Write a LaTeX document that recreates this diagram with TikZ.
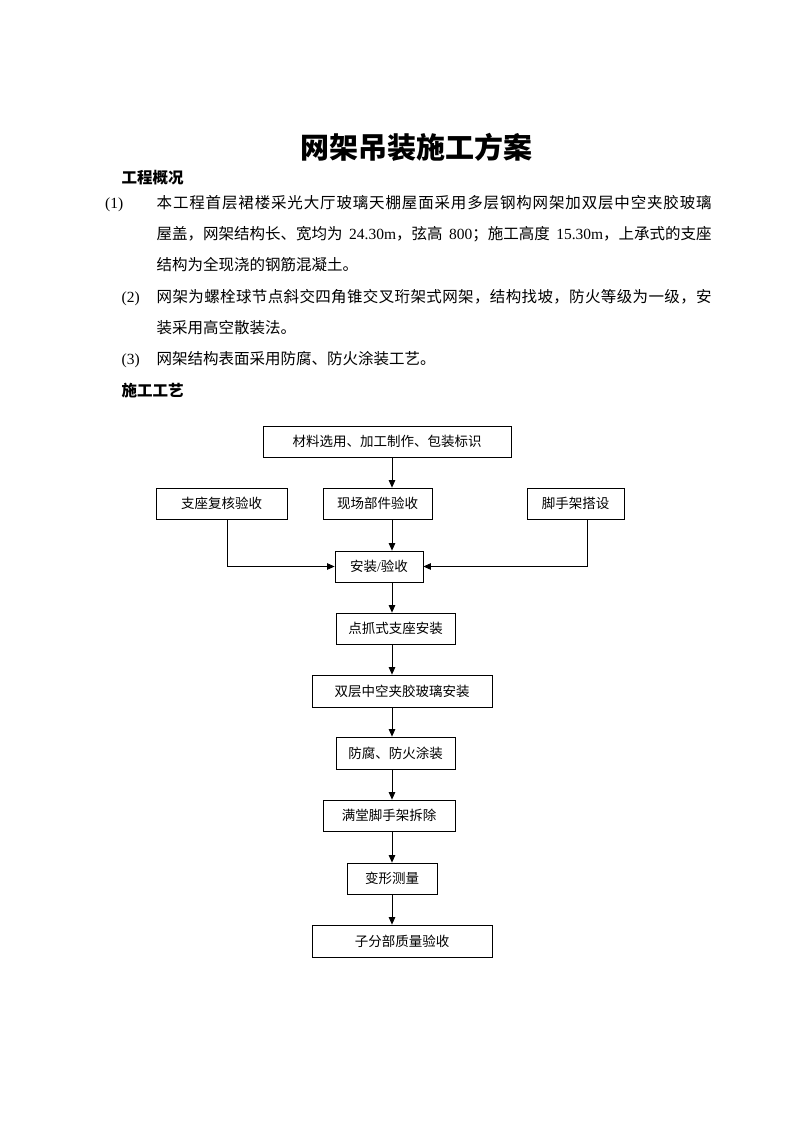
\documentclass[tikz,border=0pt]{standalone}
\usepackage{fontspec}
\setmainfont{Noto Sans CJK SC}
\newfontfamily\latf{Liberation Serif}
\usetikzlibrary{arrows.meta}
\newcommand{\lt}[1]{{\latf #1}}
\def\spreadtxt#1#2\relax{#1\spreadrest#2\relax}
\def\spreadrest#1{\ifx\relax#1\else\hfil#1\expandafter\spreadrest\fi}
\begin{document}
\begin{tikzpicture}[x=1pt,y=-1pt,
  fbox/.style={draw,line width=0.8pt,inner sep=0pt,font=\fontsize{13.5}{16}\selectfont},
  arr/.style={line width=0.8pt,-{Triangle[length=7.5pt,width=6.5pt]}},
  body/.style={anchor=west,inner sep=0pt,font=\fontsize{15.5}{18}\selectfont},
  num/.style={anchor=base west,inner sep=0pt,font=\fontsize{15.5}{18}\selectfont\latf},
  head/.style={anchor=west,inner sep=0pt,font=\fontsize{15.5}{18}\selectfont\bfseries}]
\useasboundingbox[fill=white] (0,0) rectangle (793,1122);
\coordinate (c105) at (105,0);
\coordinate (c121) at (121.5,0);
% title and text
\node[inner sep=0pt,font=\fontsize{29}{34}\selectfont\bfseries] (title) at (416.5,147) {网架吊装施工方案};
\node[head] (h1) at (121.5,177.5) {工程概况};
\node[body] (l1) at (156.5,203) {\makebox[555pt][s]{\spreadtxt 本工程首层裙楼采光大厅玻璃天棚屋面采用多层钢构网架加双层中空夹胶玻璃\relax}};
\node[num] (n1) at (l1.base -| c105) {(1)};
\node[body] (l2) at (156.5,234) {\makebox[555pt][s]{屋盖，网架结构长、宽均为 \lt{24.30m}，弦高 \lt{800}；施工高度 \lt{15.30m}，上承式的支座}};
\node[body] (l3) at (156.5,265) {结构为全现浇的钢筋混凝土。};
\node[body] (l4) at (156.5,297) {\makebox[555pt][s]{\spreadtxt 网架为螺栓球节点斜交四角锥交叉珩架式网架，结构找坡，防火等级为一级，安\relax}};
\node[num] (n2) at (l4.base -| c121) {(2)};
\node[body] (l5) at (156.5,328) {装采用高空散装法。};
\node[body] (l6) at (156.5,359) {网架结构表面采用防腐、防火涂装工艺。};
\node[num] (n3) at (l6.base -| c121) {(3)};
\node[head] (h2) at (121.5,391) {施工工艺};
% flowchart
\node[fbox,minimum width=248pt,minimum height=31pt] (top) at (387,441.5) {材料选用、加工制作、包装标识};
\node[fbox,minimum width=131pt,minimum height=31pt] (zz) at (221.5,503.5) {支座复核验收};
\node[fbox,minimum width=109pt,minimum height=31pt] (xc) at (377.5,503.5) {现场部件验收};
\node[fbox,minimum width=97pt,minimum height=31pt] (jsj) at (575.5,503.5) {脚手架搭设};
\node[fbox,minimum width=88pt,minimum height=31pt] (az) at (379,566.5) {安装\lt{/}验收};
\node[fbox,minimum width=119pt,minimum height=31pt] (dz) at (395.5,628.5) {点抓式支座安装};
\node[fbox,minimum width=180pt,minimum height=32pt] (sc) at (402,691) {双层中空夹胶玻璃安装};
\node[fbox,minimum width=119pt,minimum height=32pt] (ff) at (395.5,753) {防腐、防火涂装};
\node[fbox,minimum width=132pt,minimum height=31pt] (mt) at (389,815.5) {满堂脚手架拆除};
\node[fbox,minimum width=90pt,minimum height=31pt] (bx) at (392,878.5) {变形测量};
\node[fbox,minimum width=180pt,minimum height=32pt] (zf) at (402,941) {子分部质量验收};
\coordinate (ax) at (392,0);
\coordinate (lx) at (227.5,0);
\coordinate (rx) at (587.5,0);
\draw[arr] (top.south -| ax) -- (xc.north -| ax);
\draw[arr] (xc.south -| ax) -- (az.north -| ax);
\draw[arr] (az.south -| ax) -- (dz.north -| ax);
\draw[arr] (dz.south -| ax) -- (sc.north -| ax);
\draw[arr] (sc.south -| ax) -- (ff.north -| ax);
\draw[arr] (ff.south -| ax) -- (mt.north -| ax);
\draw[arr] (mt.south -| ax) -- (bx.north -| ax);
\draw[arr] (bx.south -| ax) -- (zf.north -| ax);
\draw[arr] (zz.south -| lx) |- (az.west);
\draw[arr] (jsj.south -| rx) |- (az.east);
\end{tikzpicture}
\end{document}
